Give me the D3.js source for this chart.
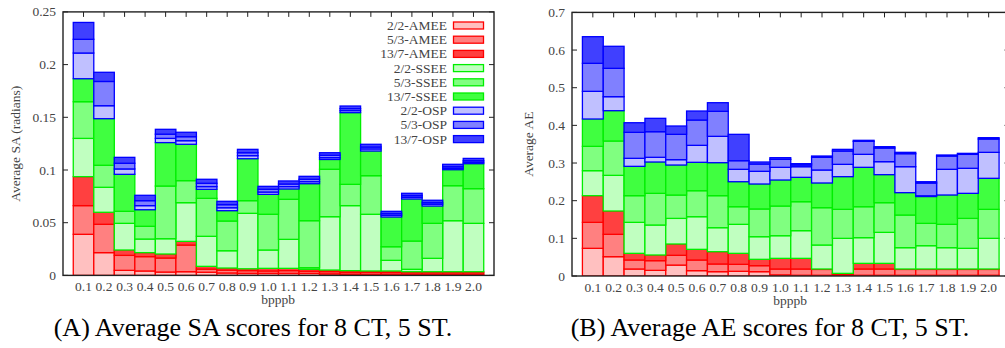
<!DOCTYPE html>
<html><head><meta charset="utf-8">
<script src="https://cdn.jsdelivr.net/npm/d3@7"></script>
<style>
body{margin:0;background:#fff;}
</style></head>
<body><svg id="c" width="1005" height="348"></svg>
<script>
const categories = ["0.1","0.2","0.3","0.4","0.5","0.6","0.7","0.8","0.9","1.0","1.1","1.2","1.3","1.4","1.5","1.6","1.7","1.8","1.9","2.0"];
const seriesNames = ["2/2-AMEE","5/3-AMEE","13/7-AMEE","2/2-SSEE","5/3-SSEE","13/7-SSEE","2/2-OSP","5/3-OSP","13/7-OSP"];
const saTicks = [0,0.05,0.1,0.15,0.2,0.25];
const aeTicks = [0,0.1,0.2,0.3,0.4,0.5,0.6,0.7];

// (A) Average SA
const sa_amee22  = [0.039,0.0216,0.0048,0.0042,0.0032,0.0035,0.003,0.0023,0.002,0.002,0.002,0.002,0.0015,0.0013,0.0012,0.0012,0.001,0.001,0.001,0.001];
const sa_amee53  = [0.0272,0.0269,0.0142,0.0136,0.0133,0.0253,0.003,0.0027,0.0025,0.0022,0.0025,0.002,0.002,0.0017,0.0018,0.0016,0.0015,0.0015,0.0015,0.0015];
const sa_amee137 = [0.0275,0.0114,0.0051,0.0038,0.0038,0.0035,0.0026,0.002,0.0018,0.0025,0.0022,0.0018,0.0016,0.0015,0.0012,0.0014,0.001,0.001,0.001,0.001];
const sa_ssee22  = [0.0363,0.0237,0.0253,0.0129,0.0145,0.0367,0.0285,0.0164,0.0526,0.0174,0.0275,0.0015,0.0506,0.0617,0.0538,0.0101,0.0023,0.0127,0.0484,0.0459];
const sa_ssee53  = [0.0348,0.0209,0.0114,0.0121,0.05,0.0209,0.036,0.0282,0.012,0.0339,0.038,0.0446,0.045,0.0202,0.0366,0.0129,0.0268,0.0332,0.0332,0.0329];
const sa_ssee137 = [0.0218,0.0442,0.0351,0.0157,0.0412,0.0345,0.0086,0.0098,0.0398,0.0189,0.0098,0.0351,0.0093,0.068,0.0234,0.0282,0.0399,0.0164,0.0152,0.0237];
const sa_osp22   = [0.0244,0.0123,0.0051,0.0039,0.004,0.0034,0.0025,0.0028,0.0029,0.0022,0.0022,0.0019,0.0017,0.0019,0.002,0.0016,0.0016,0.0017,0.0013,0.0013];
const sa_osp53   = [0.013,0.023,0.0054,0.0047,0.004,0.0038,0.0032,0.0029,0.0028,0.0026,0.0025,0.0023,0.0023,0.0019,0.0018,0.0016,0.0016,0.0015,0.0015,0.0015];
const sa_osp137  = [0.016,0.0087,0.0056,0.0051,0.0046,0.0042,0.0038,0.0032,0.0032,0.0028,0.0029,0.0028,0.0024,0.0025,0.0026,0.0022,0.0022,0.0023,0.0023,0.0022];

// (B) Average AE
const ae_amee22  = [0.0735,0.0513,0.0186,0.015,0.029,0.0142,0.0115,0.0125,0.0115,0.003,0.002,0.002,0.002,0.002,0.002,0.002,0.002,0.002,0.002,0.002];
const ae_amee53  = [0.069,0.0594,0.0239,0.0257,0.026,0.0283,0.0204,0.0185,0.0159,0.0156,0.0166,0.0155,0.003,0.0166,0.0166,0.0155,0.0155,0.0155,0.0155,0.0155];
const ae_amee137 = [0.0708,0.0619,0.0177,0.0151,0.03,0.0283,0.0327,0.0292,0.0169,0.0283,0.0283,0.0011,0.002,0.015,0.015,0.0011,0.0011,0.0011,0.0011,0.0011];
const ae_ssee22  = [0.0664,0.0947,0.0823,0.0796,0.068,0.0867,0.0637,0.077,0.0601,0.0601,0.0735,0.0637,0.093,0.0682,0.0823,0.0566,0.0619,0.0566,0.0549,0.0814];
const ae_ssee53  = [0.0646,0.0912,0.0708,0.0841,0.062,0.069,0.085,0.0468,0.0736,0.0788,0.0769,0.0991,0.077,0.0822,0.0788,0.0867,0.0593,0.062,0.0795,0.077];
const ae_ssee137 = [0.0726,0.0805,0.0779,0.0832,0.0797,0.0754,0.0876,0.0664,0.0663,0.0691,0.0647,0.0656,0.0868,0.1046,0.0744,0.0594,0.0712,0.0779,0.0665,0.0824];
const ae_osp22   = [0.0735,0.0372,0.0213,0.0125,0.0142,0.0451,0.07,0.0329,0.0337,0.0337,0.0283,0.0345,0.0327,0.0345,0.0345,0.069,0.002,0.0682,0.0665,0.069];
const ae_osp53   = [0.0744,0.0753,0.069,0.068,0.0673,0.0672,0.0664,0.0229,0.0194,0.0212,0.0044,0.0336,0.0354,0.0345,0.0363,0.0345,0.0339,0.0353,0.037,0.0354];
const ae_osp137  = [0.0707,0.0585,0.0255,0.0355,0.0221,0.0239,0.0229,0.07,0.0053,0.0044,0.0036,0.0035,0.0044,0.0027,0.0035,0.0036,0.0035,0.0027,0.0027,0.0035];

const fills   = ["#ffc0c0","#ff8080","#ff4040","#c0ffc0","#80ff80","#40ff40","#c0c0ff","#8080ff","#4040ff"];
const strokes = ["#ff0000","#ff0000","#ff0000","#00ee00","#00ee00","#00ee00","#0000ff","#0000ff","#0000ff"];
const FONT = "'Liberation Serif'";

const svg = d3.select("#c");

function txt(sel){ return sel.style("font-family", FONT); }

function drawChart(cfg){
  const g = svg.append("g");
  const x = d3.scaleBand().domain(categories).range([cfg.left, cfg.right]).paddingInner(0).paddingOuter(0.5);
  const y = d3.scaleLinear().domain([0, cfg.yMax]).range([cfg.bottom, cfg.top]);
  const table = categories.map((c,i)=>{
    const o = {cat:c};
    seriesNames.forEach((s,k)=>{ o[s] = cfg.series[k][i]; });
    return o;
  });
  const stacked = d3.stack().keys(seriesNames)(table);

  const clipId = "clip"+cfg.id;
  svg.append("clipPath").attr("id",clipId).append("rect")
    .attr("x",cfg.left).attr("y",cfg.top).attr("width",cfg.right-cfg.left).attr("height",cfg.bottom-cfg.top);

  const tickCol = "#222";
  g.append("g").selectAll("line").data(categories).join("line")
    .attr("x1",d=>x(d)+x.bandwidth()/2).attr("x2",d=>x(d)+x.bandwidth()/2)
    .attr("y1",cfg.bottom).attr("y2",cfg.bottom-5).attr("stroke",tickCol).attr("stroke-width",1);

  const bars = g.append("g").attr("clip-path",`url(#${clipId})`);
  stacked.forEach((layer,k)=>{
    bars.append("g").selectAll("rect").data(layer).join("rect")
      .attr("x",d=>x(d.data.cat))
      .attr("width",x.bandwidth())
      .attr("y",d=>y(d[1]))
      .attr("height",d=>Math.max(0,y(d[0])-y(d[1])))
      .attr("fill",fills[k])
      .attr("stroke",strokes[k])
      .attr("stroke-width",1.3);
  });

  g.append("g").selectAll("line").data(categories).join("line")
    .attr("x1",d=>x(d)+x.bandwidth()/2).attr("x2",d=>x(d)+x.bandwidth()/2)
    .attr("y1",cfg.top).attr("y2",cfg.top+5).attr("stroke",tickCol).attr("stroke-width",1);
  g.append("g").selectAll("line").data(cfg.ticks).join("line")
    .attr("x1",cfg.left).attr("x2",cfg.left+5).attr("y1",d=>y(d)).attr("y2",d=>y(d))
    .attr("stroke",tickCol).attr("stroke-width",1);
  g.append("g").selectAll("line").data(cfg.ticks).join("line")
    .attr("x1",cfg.right).attr("x2",cfg.right-5).attr("y1",d=>y(d)).attr("y2",d=>y(d))
    .attr("stroke",tickCol).attr("stroke-width",1);

  g.append("rect").attr("x",cfg.left).attr("y",cfg.top)
    .attr("width",cfg.right-cfg.left).attr("height",cfg.bottom-cfg.top)
    .attr("fill","none").attr("stroke","#222").attr("stroke-width",1.4);

  txt(g.append("g").selectAll("text").data(cfg.ticks).join("text"))
    .attr("x",cfg.left-7).attr("y",d=>y(d)+4.5)
    .attr("text-anchor","end").attr("font-size",13.5).attr("fill","#444")
    .text(d=>String(+d.toFixed(2)));
  txt(g.append("g").selectAll("text").data(categories).join("text"))
    .attr("x",d=>x(d)+x.bandwidth()/2).attr("y",cfg.bottom+16)
    .attr("text-anchor","middle").attr("font-size",13.5).attr("fill","#444")
    .text(d=>d);
  txt(g.append("text")).attr("x",cfg.xlabX).attr("y",cfg.bottom+29)
    .attr("text-anchor","middle").attr("font-size",13.5).attr("fill","#444").text("bpppb");
  txt(g.append("text")).attr("transform",`translate(${cfg.ylabX},${(cfg.top+cfg.bottom)/2}) rotate(-90)`)
    .attr("text-anchor","middle").attr("font-size",13.5).attr("fill","#444").text(cfg.yLabel);
  txt(g.append("text")).attr("x",cfg.capX).attr("y",336).attr("text-anchor","middle")
    .attr("font-size",26).attr("fill","#000").text(cfg.caption);

  if(cfg.legend){
    const lg = g.append("g");
    seriesNames.forEach((s,k)=>{
      const cy = 25.5 + k*14.2;
      lg.append("rect").attr("x",453.5).attr("y",cy-3.5).attr("width",30).attr("height",7)
        .attr("fill",fills[k]).attr("stroke",strokes[k]).attr("stroke-width",1.3);
      txt(lg.append("text")).attr("x",447).attr("y",cy+4.5).attr("text-anchor","end")
        .attr("font-size",13.5).attr("fill","#444").text(s);
    });
  }
}

drawChart({id:"A", left:63, right:494, top:11.9, bottom:275.4, yMax:0.25, ticks:saTicks,
  series:[sa_amee22,sa_amee53,sa_amee137,sa_ssee22,sa_ssee53,sa_ssee137,sa_osp22,sa_osp53,sa_osp137],
  yLabel:"Average SA (radians)", ylabX:20, xlabX:278, caption:"(A) Average SA scores for 8 CT, 5 ST.", capX:253, legend:true});
drawChart({id:"B", left:572, right:1009.5, top:12.4, bottom:276, yMax:0.7, ticks:aeTicks,
  series:[ae_amee22,ae_amee53,ae_amee137,ae_ssee22,ae_ssee53,ae_ssee137,ae_osp22,ae_osp53,ae_osp137],
  yLabel:"Average AE", ylabX:533, xlabX:790, caption:"(B) Average AE scores for 8 CT, 5 ST.", capX:770, legend:false});
</script></body></html>
